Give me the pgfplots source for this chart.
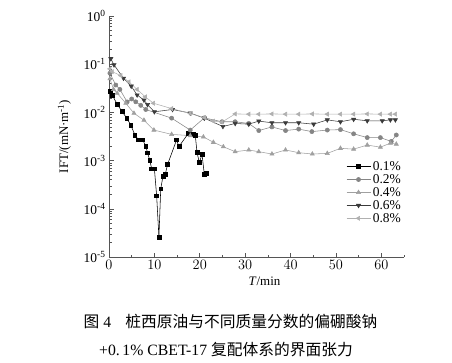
\documentclass[border=0pt]{standalone}
\usepackage{fontspec}
\setmainfont{Liberation Serif}
\newfontfamily\cjk{Noto Sans CJK SC}
\usepackage{pgfplots}
\pgfplotsset{compat=1.18}
\definecolor{axisgray}{HTML}{555555}
\definecolor{cA}{HTML}{000000}
\definecolor{cB}{HTML}{858585}
\definecolor{cC}{HTML}{A0A0A0}
\definecolor{cD}{HTML}{3A3A3A}
\definecolor{cE}{HTML}{B0B0B0}
\begin{document}
\begin{tikzpicture}[x=1bp,y=1bp]
\begin{axis}[
  at={(0,0)}, anchor=south west,
  scale only axis, width=295bp, height=241bp,
  xmin=0, xmax=65, ymin=1e-5, ymax=1,
  ymode=log,
  axis x line*=bottom, axis y line*=left,
  xtick={0,10,...,60}, minor xtick={5,15,...,65},
  ytick={1e-5,1e-4,1e-3,1e-2,1e-1,1},
  minor ytick={2e-5,3e-5,4e-5,5e-5,6e-5,7e-5,8e-5,9e-5,
               2e-4,3e-4,4e-4,5e-4,6e-4,7e-4,8e-4,9e-4,
               2e-3,3e-3,4e-3,5e-3,6e-3,7e-3,8e-3,9e-3,
               2e-2,3e-2,4e-2,5e-2,6e-2,7e-2,8e-2,9e-2,
               0.2,0.3,0.4,0.5,0.6,0.7,0.8,0.9},
  yticklabels={10\textsuperscript{-5},10\textsuperscript{-4},10\textsuperscript{-3},10\textsuperscript{-2},10\textsuperscript{-1},10\textsuperscript{0}},
  tick align=inside,
  major tick length=4.5bp, minor tick length=2.5bp,
  axis line style={color=axisgray, line width=0.8pt},
  every tick/.style={color=axisgray, line width=0.6pt},
  ticklabel style={font=\fontsize{13.5}{15}\selectfont, text=black},
  xlabel={\textit{T}/min}, ylabel={IFT/(mN·m\textsuperscript{-1})},
  label style={font=\fontsize{13}{15}\selectfont},
  xlabel style={xshift=8bp},
  ylabel shift=6bp,
  legend style={at={(1,0.41)}, anchor=north east, draw=none, fill=none,
    font=\fontsize{13.5}{15}\selectfont, row sep=-1.5bp, inner sep=1bp},
  legend cell align=left,
  legend image code/.code={\draw[mark repeat=2,mark phase=2] plot coordinates {(0bp,0bp) (12bp,0bp) (24bp,0bp)};},
  every axis plot/.append style={line width=0.55pt},
]
\addplot[color=cA, mark=square*, mark size=1.9pt] coordinates {
(0.2,0.027) (0.7,0.023) (1.8,0.0148) (2.9,0.0104) (3.9,0.0076) (4.8,0.0055)
(5.7,0.0034) (6.5,0.0027) (7.4,0.0027) (8.1,0.0020) (8.5,0.00145) (9.0,0.00100)
(9.4,0.00068) (10.0,0.00068) (10.5,0.000186) (11.0,0.0000257) (11.4,0.00026)
(11.9,0.00048) (12.4,0.00052) (12.9,0.00083) (14.9,0.0027) (15.4,0.00195)
(17.5,0.0037) (18.5,0.0035) (19.0,0.0034) (19.4,0.00148) (19.9,0.00091)
(20.5,0.00135) (21.0,0.00052) (21.5,0.00055)
};
\addlegendentry{0.1\%}
\addplot[color=cB, mark=*, mark size=2.1pt] coordinates {
(0.2,0.065) (1.5,0.037) (2.4,0.030) (4.0,0.0165) (5.0,0.019) (5.9,0.0166)
(7.0,0.014) (8.1,0.0115) (13.8,0.0076) (17.9,0.0043) (21.0,0.0077) (24.9,0.0064)
(27.8,0.0064) (30.8,0.0059) (33.0,0.0042) (35.9,0.0050) (38.9,0.0042)
(41.8,0.0045) (44.7,0.0040) (48.1,0.0043) (51.0,0.0044) (53.9,0.0036)
(56.9,0.0030) (59.8,0.0030) (62.2,0.0025) (63.3,0.0034)
};
\addlegendentry{0.2\%}
\addplot[color=cC, mark=triangle*, mark size=2.4pt] coordinates {
(0.2,0.05) (1.0,0.03) (1.8,0.025) (3.7,0.0155) (5.5,0.0096) (7.7,0.0069)
(9.9,0.0043) (13.8,0.0035) (17.9,0.0033) (20.8,0.0031) (23.0,0.0024) (25.2,0.00194)
(27.8,0.00153) (30.8,0.00166) (33.0,0.00153) (35.9,0.00137) (38.9,0.00166)
(41.8,0.00146) (44.8,0.00137) (48.1,0.00141) (51.0,0.0018) (53.9,0.00173)
(56.9,0.0021) (59.8,0.0019) (62.0,0.0023) (63.3,0.0022)
};
\addlegendentry{0.4\%}
\addplot[color=cD, mark=triangle*, mark size=2.4pt, mark options={rotate=180}] coordinates {
(0.4,0.13) (1.1,0.097) (3.2,0.051) (4.9,0.035) (6.2,0.023) (7.7,0.018)
(8.5,0.0145) (10.0,0.0103) (14.0,0.0115) (17.9,0.0097) (21.0,0.0076) (25.1,0.0051)
(27.8,0.0059) (30.8,0.0057) (33.0,0.0066) (35.9,0.0061) (38.9,0.0061)
(41.8,0.0061) (45.1,0.0057) (48.1,0.0070) (51.0,0.0064) (53.9,0.0072)
(56.9,0.0067) (60.2,0.0067) (62.0,0.0070) (63.1,0.0070)
};
\addlegendentry{0.6\%}
\addplot[color=cE, mark=triangle*, mark size=2.4pt, mark options={rotate=90}] coordinates {
(0.2,0.08) (0.7,0.07) (2.6,0.058) (4.4,0.043) (6.2,0.030) (8.0,0.021)
(9.8,0.0155) (13.8,0.0120) (17.9,0.0095) (21.0,0.0078) (23.0,0.0066) (24.9,0.0063)
(27.8,0.0093) (30.8,0.0092) (33.0,0.0092) (35.9,0.0093) (38.9,0.0092)
(41.8,0.0092) (44.8,0.0093) (48.1,0.0092) (51.0,0.0092) (53.9,0.0092)
(56.9,0.0093) (59.8,0.0092) (62.0,0.0092) (63.1,0.0092)
};
\addlegendentry{0.8\%}
\end{axis}
\node[font=\fontsize{15.8}{18}\selectfont] at (121.5,-65) {{\cjk 图}~4\hspace{0.9em}{\cjk 桩西原油与不同质量分数的偏硼酸钠}};
\node[font=\fontsize{15.8}{18}\selectfont] at (117,-93) {+0.\,1\% CBET-17 {\cjk 复配体系的界面张力}};
\pgfresetboundingbox
\useasboundingbox (-109,-105) rectangle (343,257);
\end{tikzpicture}
\end{document}
